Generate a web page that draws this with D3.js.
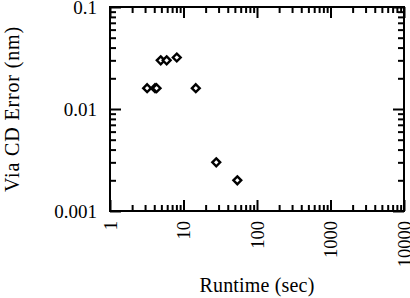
<!DOCTYPE html>
<html>
<head>
<meta charset="utf-8">
<script src="https://cdn.jsdelivr.net/npm/d3@7"></script>
<style>
  body { margin: 0; background: #fff; }
</style>
</head>
<body>
<div id="chart"></div>
<script>
// data
var runtimes = [3.2, 4.1, 4.3, 4.9, 5.9, 8.1, 14.7, 27.9, 54];
var errors   = [0.016, 0.016, 0.016, 0.030, 0.030, 0.032, 0.016, 0.003, 0.002];
var xTicks = [1, 10, 100, 1000, 10000];
var yTicks = [0.001, 0.01, 0.1];
var xLabels = ["1", "10", "100", "1000", "10000"];
var yLabels = ["0.001", "0.01", "0.1"];

var width = 410, height = 298;
// plot box (note: "top" is reserved on window, so use other names)
var pLeft = 110, pRight = 404, pTop = 7, pBottom = 211;
var serif = "'Liberation Serif', 'Times New Roman', Times, serif";

var svg = d3.select("#chart").append("svg")
    .attr("width", width)
    .attr("height", height)
    .attr("font-family", serif);

var x = d3.scaleLog().domain([1, 10000]).range([pLeft, pRight]);
var y = d3.scaleLog().domain([0.001, 0.1]).range([pBottom, pTop]);

// minor ticks 2..9 in each decade
function minors(domain) {
    var out = [];
    for (var e = Math.log10(domain[0]); e < Math.log10(domain[1]); e++) {
        for (var k = 2; k <= 9; k++) out.push(k * Math.pow(10, e));
    }
    return out;
}
var xMinor = minors(x.domain());
var yMinor = minors(y.domain());

function styleAxis(g) {
    g.select(".domain").remove();
    g.attr("font-family", serif);
    g.selectAll("line").attr("stroke", "#000").attr("stroke-width", 2);
    g.selectAll("text").attr("font-family", serif).attr("fill", "#000");
}

// stretch a title a bit so it spans the same length as in the original
function spread(sel, target) {
    var node = sel.node();
    var len = node.getComputedTextLength();
    var n = sel.text().length;
    if (len < target && n > 1) sel.attr("letter-spacing", ((target - len) / n) + "px");
}

// minor ticks
svg.append("g").attr("transform", "translate(0," + pBottom + ")")
    .call(d3.axisBottom(x).tickValues(xMinor).tickSize(-6).tickFormat(""))
    .call(styleAxis);
svg.append("g").attr("transform", "translate(0," + pTop + ")")
    .call(d3.axisTop(x).tickValues(xMinor).tickSize(-6).tickFormat(""))
    .call(styleAxis);
svg.append("g").attr("transform", "translate(" + pLeft + ",0)")
    .call(d3.axisLeft(y).tickValues(yMinor).tickSize(-6).tickFormat(""))
    .call(styleAxis);
svg.append("g").attr("transform", "translate(" + pRight + ",0)")
    .call(d3.axisRight(y).tickValues(yMinor).tickSize(-6).tickFormat(""))
    .call(styleAxis);

// major ticks + labels
var xAxis = svg.append("g").attr("transform", "translate(0," + pBottom + ")")
    .call(d3.axisBottom(x).tickValues(xTicks).tickSize(-11)
        .tickFormat(function(d, i) { return xLabels[i]; }))
    .call(styleAxis);
xAxis.selectAll("text")
    .attr("transform", "rotate(-90)")
    .attr("text-anchor", "end")
    .attr("x", -10)
    .attr("y", 0)
    .attr("dy", "0.33em")
    .attr("font-size", "18.5px");

svg.append("g").attr("transform", "translate(0," + pTop + ")")
    .call(d3.axisTop(x).tickValues(xTicks).tickSize(-11).tickFormat(""))
    .call(styleAxis);

var yAxis = svg.append("g").attr("transform", "translate(" + pLeft + ",0)")
    .call(d3.axisLeft(y).tickValues(yTicks).tickSize(-11)
        .tickFormat(function(d, i) { return yLabels[i]; }))
    .call(styleAxis);
yAxis.selectAll("text")
    .attr("text-anchor", "end")
    .attr("x", -13)
    .attr("dy", "0.33em")
    .attr("font-size", "19px");

svg.append("g").attr("transform", "translate(" + pRight + ",0)")
    .call(d3.axisRight(y).tickValues(yTicks).tickSize(-11).tickFormat(""))
    .call(styleAxis);

// frame
svg.append("rect")
    .attr("x", pLeft).attr("y", pTop)
    .attr("width", pRight - pLeft).attr("height", pBottom - pTop)
    .attr("fill", "none").attr("stroke", "#000").attr("stroke-width", 2);

// points (hollow diamonds)
var pts = runtimes.map(function(r, i) { return { r: r, e: errors[i] }; });
var s = 3.9;
svg.append("g").selectAll("path")
    .data(pts)
    .enter()
    .append("path")
    .attr("transform", function(d) { return "translate(" + x(d.r) + "," + y(d.e) + ")"; })
    .attr("d", "M0," + (-s) + "L" + s + ",0L0," + s + "L" + (-s) + ",0Z")
    .attr("fill", "#fff")
    .attr("stroke", "#000")
    .attr("stroke-width", 2.4);

// axis titles
svg.append("text")
    .attr("x", (pLeft + pRight) / 2)
    .attr("y", 292)
    .attr("text-anchor", "middle")
    .attr("font-size", "20px")
    .text("Runtime (sec)")
    .call(spread, 115);

svg.append("text")
    .attr("transform", "translate(19," + (pTop + pBottom) / 2 + ") rotate(-90)")
    .attr("text-anchor", "middle")
    .attr("font-size", "20px")
    .text("Via CD Error (nm)")
    .call(spread, 166);
</script>
</body>
</html>
